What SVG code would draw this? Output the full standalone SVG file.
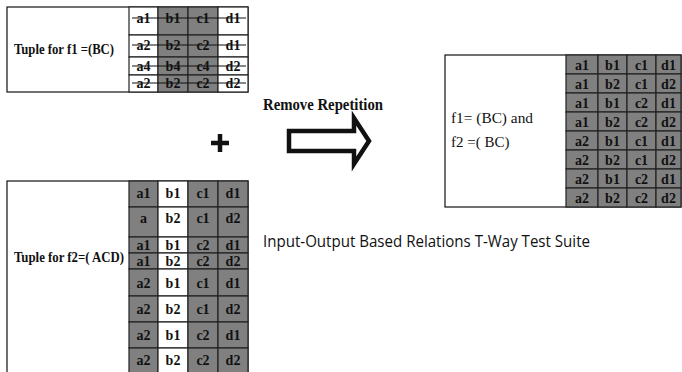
<svg xmlns="http://www.w3.org/2000/svg" width="682" height="372" viewBox="0 0 682 372">
<style>
.box{fill:#fff;stroke:#111;stroke-width:1.2}
.g{fill:#808080;stroke:#222;stroke-width:1.2}
.w{fill:#fff;stroke:#222;stroke-width:1.2}
.c{font-family:"Liberation Serif","Times New Roman",serif;font-size:14px;font-weight:bold;text-anchor:middle;fill:#111}
.lbl{font-family:"Liberation Serif","Times New Roman",serif;font-size:14px;font-weight:bold;fill:#111}
.st{stroke:#111;stroke-width:1.2}
</style>
<rect width="682" height="372" fill="#fff"/>

<g id="table-f1">
<rect class="box" x="7" y="7" width="241" height="85"/>
<text class="lbl" x="14" y="54" textLength="100" lengthAdjust="spacingAndGlyphs">Tuple for f1 =(BC)</text>
<g>
<rect class="w" x="129" y="7" width="29" height="28"/><rect class="g" x="158" y="7" width="30" height="28"/><rect class="g" x="188" y="7" width="30" height="28"/><rect class="w" x="218" y="7" width="30" height="28"/>
<rect class="w" x="129" y="35" width="29" height="22"/><rect class="g" x="158" y="35" width="30" height="22"/><rect class="g" x="188" y="35" width="30" height="22"/><rect class="w" x="218" y="35" width="30" height="22"/>
<rect class="w" x="129" y="57" width="29" height="18"/><rect class="g" x="158" y="57" width="30" height="18"/><rect class="g" x="188" y="57" width="30" height="18"/><rect class="w" x="218" y="57" width="30" height="18"/>
<rect class="w" x="129" y="75" width="29" height="17"/><rect class="g" x="158" y="75" width="30" height="17"/><rect class="g" x="188" y="75" width="30" height="17"/><rect class="w" x="218" y="75" width="30" height="17"/>
</g>
<text class="c" x="143.5" y="23">a1</text><text class="c" x="173" y="23">b1</text><text class="c" x="203" y="23">c1</text><text class="c" x="233" y="23">d1</text>
<text class="c" x="143.5" y="50">a2</text><text class="c" x="173" y="50">b2</text><text class="c" x="203" y="50">c2</text><text class="c" x="233" y="50">d1</text>
<text class="c" x="143.5" y="71">a4</text><text class="c" x="173" y="71">b4</text><text class="c" x="203" y="71">c4</text><text class="c" x="233" y="71">d2</text>
<text class="c" x="143.5" y="88">a2</text><text class="c" x="173" y="88">b2</text><text class="c" x="203" y="88">c2</text><text class="c" x="233" y="88">d2</text>
<line class="st" x1="132" y1="18" x2="246" y2="18"/>
<line class="st" x1="132" y1="45" x2="246" y2="45"/>
<line class="st" x1="132" y1="66" x2="246" y2="66"/>
<line class="st" x1="132" y1="83" x2="246" y2="83"/>
</g>

<g id="table-f2">
<rect class="box" x="7" y="181" width="241" height="195"/>
<text class="lbl" x="14" y="262" textLength="110" lengthAdjust="spacingAndGlyphs">Tuple for f2=( ACD)</text>
<g>
<rect class="g" x="129" y="181" width="29" height="26"/><rect class="w" x="158" y="181" width="30" height="26"/><rect class="g" x="188" y="181" width="30" height="26"/><rect class="g" x="218" y="181" width="30" height="26"/>
<rect class="g" x="129" y="207" width="29" height="30"/><rect class="w" x="158" y="207" width="30" height="30"/><rect class="g" x="188" y="207" width="30" height="30"/><rect class="g" x="218" y="207" width="30" height="30"/>
<rect class="g" x="129" y="237" width="29" height="16"/><rect class="w" x="158" y="237" width="30" height="16"/><rect class="g" x="188" y="237" width="30" height="16"/><rect class="g" x="218" y="237" width="30" height="16"/>
<rect class="g" x="129" y="253" width="29" height="16"/><rect class="w" x="158" y="253" width="30" height="16"/><rect class="g" x="188" y="253" width="30" height="16"/><rect class="g" x="218" y="253" width="30" height="16"/>
<rect class="g" x="129" y="269" width="29" height="27"/><rect class="w" x="158" y="269" width="30" height="27"/><rect class="g" x="188" y="269" width="30" height="27"/><rect class="g" x="218" y="269" width="30" height="27"/>
<rect class="g" x="129" y="296" width="29" height="26"/><rect class="w" x="158" y="296" width="30" height="26"/><rect class="g" x="188" y="296" width="30" height="26"/><rect class="g" x="218" y="296" width="30" height="26"/>
<rect class="g" x="129" y="322" width="29" height="26"/><rect class="w" x="158" y="322" width="30" height="26"/><rect class="g" x="188" y="322" width="30" height="26"/><rect class="g" x="218" y="322" width="30" height="26"/>
<rect class="g" x="129" y="348" width="29" height="28"/><rect class="w" x="158" y="348" width="30" height="28"/><rect class="g" x="188" y="348" width="30" height="28"/><rect class="g" x="218" y="348" width="30" height="28"/>
</g>
<text class="c" x="143.5" y="198">a1</text><text class="c" x="173" y="198">b1</text><text class="c" x="203" y="198">c1</text><text class="c" x="233" y="198">d1</text>
<text class="c" x="143.5" y="223">a</text><text class="c" x="173" y="223">b2</text><text class="c" x="203" y="223">c1</text><text class="c" x="233" y="223">d2</text>
<text class="c" x="143.5" y="250">a1</text><text class="c" x="173" y="250">b1</text><text class="c" x="203" y="250">c2</text><text class="c" x="233" y="250">d1</text>
<text class="c" x="143.5" y="266">a1</text><text class="c" x="173" y="266">b2</text><text class="c" x="203" y="266">c2</text><text class="c" x="233" y="266">d2</text>
<text class="c" x="143.5" y="288">a2</text><text class="c" x="173" y="288">b1</text><text class="c" x="203" y="288">c1</text><text class="c" x="233" y="288">d1</text>
<text class="c" x="143.5" y="314">a2</text><text class="c" x="173" y="314">b2</text><text class="c" x="203" y="314">c1</text><text class="c" x="233" y="314">d2</text>
<text class="c" x="143.5" y="340">a2</text><text class="c" x="173" y="340">b1</text><text class="c" x="203" y="340">c2</text><text class="c" x="233" y="340">d1</text>
<text class="c" x="143.5" y="365">a2</text><text class="c" x="173" y="365">b2</text><text class="c" x="203" y="365">c2</text><text class="c" x="233" y="365">d2</text>
</g>

<g id="plus">
<path d="M211,143 H229 M220,134 V152" stroke="#111" stroke-width="4.5" fill="none"/>
</g>

<g id="connectors">
<path d="M289,131 L354,131 L354,118 L369,141 L354,164 L354,151 L289,151 Z" fill="#fff" stroke="#111" stroke-width="4.5" stroke-linejoin="miter"/>
<text x="263" y="110" font-family="Liberation Serif,Times New Roman,serif" font-size="16" font-weight="bold" fill="#111" textLength="120" lengthAdjust="spacingAndGlyphs">Remove Repetition</text>
</g>

<g id="table-result">
<rect class="box" x="445" y="55" width="236" height="152"/>
<text x="451" y="123" font-family="Liberation Serif,Times New Roman,serif" font-size="15" fill="#111" textLength="82" lengthAdjust="spacingAndGlyphs">f1= (BC) and</text>
<text x="451" y="147" font-family="Liberation Serif,Times New Roman,serif" font-size="15" fill="#111">f2 =( BC)</text>
<g>
<rect class="g" x="566" y="55" width="32" height="19"/><rect class="g" x="598" y="55" width="29" height="19"/><rect class="g" x="627" y="55" width="29" height="19"/><rect class="g" x="656" y="55" width="25" height="19"/>
<rect class="g" x="566" y="74" width="32" height="19"/><rect class="g" x="598" y="74" width="29" height="19"/><rect class="g" x="627" y="74" width="29" height="19"/><rect class="g" x="656" y="74" width="25" height="19"/>
<rect class="g" x="566" y="93" width="32" height="19"/><rect class="g" x="598" y="93" width="29" height="19"/><rect class="g" x="627" y="93" width="29" height="19"/><rect class="g" x="656" y="93" width="25" height="19"/>
<rect class="g" x="566" y="112" width="32" height="19"/><rect class="g" x="598" y="112" width="29" height="19"/><rect class="g" x="627" y="112" width="29" height="19"/><rect class="g" x="656" y="112" width="25" height="19"/>
<rect class="g" x="566" y="131" width="32" height="19"/><rect class="g" x="598" y="131" width="29" height="19"/><rect class="g" x="627" y="131" width="29" height="19"/><rect class="g" x="656" y="131" width="25" height="19"/>
<rect class="g" x="566" y="150" width="32" height="19"/><rect class="g" x="598" y="150" width="29" height="19"/><rect class="g" x="627" y="150" width="29" height="19"/><rect class="g" x="656" y="150" width="25" height="19"/>
<rect class="g" x="566" y="169" width="32" height="19"/><rect class="g" x="598" y="169" width="29" height="19"/><rect class="g" x="627" y="169" width="29" height="19"/><rect class="g" x="656" y="169" width="25" height="19"/>
<rect class="g" x="566" y="188" width="32" height="19"/><rect class="g" x="598" y="188" width="29" height="19"/><rect class="g" x="627" y="188" width="29" height="19"/><rect class="g" x="656" y="188" width="25" height="19"/>
</g>
<text class="c" x="582" y="69.5">a1</text><text class="c" x="612.5" y="69.5">b1</text><text class="c" x="641.5" y="69.5">c1</text><text class="c" x="668.5" y="69.5">d1</text>
<text class="c" x="582" y="88.5">a1</text><text class="c" x="612.5" y="88.5">b2</text><text class="c" x="641.5" y="88.5">c1</text><text class="c" x="668.5" y="88.5">d2</text>
<text class="c" x="582" y="107.5">a1</text><text class="c" x="612.5" y="107.5">b1</text><text class="c" x="641.5" y="107.5">c2</text><text class="c" x="668.5" y="107.5">d1</text>
<text class="c" x="582" y="126.5">a1</text><text class="c" x="612.5" y="126.5">b2</text><text class="c" x="641.5" y="126.5">c2</text><text class="c" x="668.5" y="126.5">d2</text>
<text class="c" x="582" y="145.5">a2</text><text class="c" x="612.5" y="145.5">b1</text><text class="c" x="641.5" y="145.5">c1</text><text class="c" x="668.5" y="145.5">d1</text>
<text class="c" x="582" y="164.5">a2</text><text class="c" x="612.5" y="164.5">b2</text><text class="c" x="641.5" y="164.5">c1</text><text class="c" x="668.5" y="164.5">d2</text>
<text class="c" x="582" y="183.5">a2</text><text class="c" x="612.5" y="183.5">b1</text><text class="c" x="641.5" y="183.5">c2</text><text class="c" x="668.5" y="183.5">d1</text>
<text class="c" x="582" y="202.5">a2</text><text class="c" x="612.5" y="202.5">b2</text><text class="c" x="641.5" y="202.5">c2</text><text class="c" x="668.5" y="202.5">d2</text>
</g>

<g id="caption">
<text x="263" y="247" font-family="Open Sans,Liberation Sans,sans-serif" font-size="16" fill="#111" textLength="327" lengthAdjust="spacingAndGlyphs">Input-Output Based Relations T-Way Test Suite</text>
</g>
</svg>
